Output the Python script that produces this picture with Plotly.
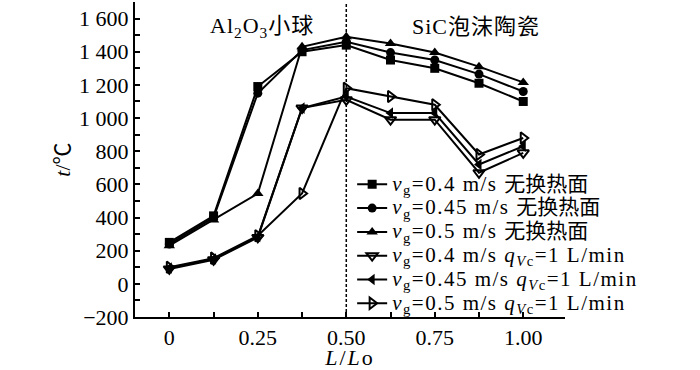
import plotly.graph_objects as go

# ---- data ----
x_pos = [0, 0.125, 0.25, 0.375, 0.5, 0.625, 0.75, 0.875, 1.0]
t_04_none = [250, 410, 1190, 1400, 1440, 1350, 1300, 1210, 1100]
t_045_none = [240, 400, 1150, 1410, 1460, 1395, 1350, 1265, 1160]
t_05_none = [230, 385, 545, 1430, 1490, 1450, 1395, 1310, 1215]
t_04_q = [90, 145, 280, 1060, 1110, 990, 990, 670, 790]
t_045_q = [95, 150, 285, 1060, 1130, 1030, 1030, 720, 830]
t_05_q = [100, 155, 290, 545, 1180, 1130, 1080, 780, 880]

series_latin = [
    "<i>v</i><sub>g</sub>=0.4 m/s ",
    "<i>v</i><sub>g</sub>=0.45 m/s ",
    "<i>v</i><sub>g</sub>=0.5 m/s ",
    "<i>v</i><sub>g</sub>=0.4 m/s <i>q</i><sub><i>V</i>c</sub>=1 L/min",
    "<i>v</i><sub>g</sub>=0.45 m/s <i>q</i><sub><i>V</i>c</sub>=1 L/min",
    "<i>v</i><sub>g</sub>=0.5 m/s <i>q</i><sub><i>V</i>c</sub>=1 L/min",
]
series_cjk = ["无换热面", "无换热面", "无换热面", "", "", ""]
series_values = [t_04_none, t_045_none, t_05_none, t_04_q, t_045_q, t_05_q]
series_symbols = ["square", "circle", "triangle-up",
                  "triangle-down-open", "triangle-left", "triangle-right-open"]

y_tick_vals = [-200, 0, 200, 400, 600, 800, 1000, 1200, 1400, 1600]
y_tick_text = ["−200", "0", "200", "400", "600", "800",
               "1 000", "1 200", "1 400", "1 600"]
x_tick_vals = [0, 0.25, 0.5, 0.75, 1.0]
x_tick_text = ["0", "0.25", "0.50", "0.75", "1.00"]
divider_x = 0.5
region_labels = ["Al<sub>2</sub>O<sub>3</sub>小球", "SiC泡沫陶瓷"]

FONT = "Liberation Serif, Times New Roman, Noto Sans CJK SC, serif"

fig = go.Figure()
for latin, cjk, vals, sym in zip(series_latin, series_cjk, series_values, series_symbols):
    label = '<span style="font-size:21px;letter-spacing:1.5px">' + latin + "</span>"
    if cjk:
        label += '<span style="font-size:21px">' + cjk + "</span>"
    fig.add_trace(go.Scatter(
        x=x_pos, y=vals, mode="lines+markers",
        name=label,
        line=dict(color="black", width=2),
        marker=dict(symbol=sym, size=10 if "triangle" in sym else 9,
                    color="black",
                    line=dict(color="black", width=2 if "open" in sym else 0)),
    ))

fig.add_shape(type="line", x0=divider_x, x1=divider_x, y0=0, y1=1,
              xref="x", yref="paper",
              line=dict(color="black", width=1.5, dash="3px,2px"))

fig.add_annotation(x=0.2965, y=0.922, xref="paper", yref="paper",
                   xanchor="center", yanchor="middle",
                   text='<span style="letter-spacing:1px">' + region_labels[0] + "</span>",
                   showarrow=False,
                   font=dict(size=22, family=FONT, color="black"))
fig.add_annotation(x=0.793, y=0.922, xref="paper", yref="paper",
                   xanchor="center", yanchor="middle",
                   text='<span style="letter-spacing:1px">' + region_labels[1] + "</span>",
                   showarrow=False,
                   font=dict(size=22, family=FONT, color="black"))

fig.update_layout(
    width=700, height=370,
    margin=dict(l=135, r=135, t=2, b=48),
    paper_bgcolor="white", plot_bgcolor="white",
    font=dict(family=FONT, size=22, color="black"),
    showlegend=True,
    legend=dict(x=0.505, y=0.475, xanchor="left", yanchor="top",
                bgcolor="rgba(0,0,0,0)", borderwidth=0,
                font=dict(size=16, family=FONT, color="black"),
                tracegroupgap=0, itemwidth=30),
    xaxis=dict(range=[-0.097, 1.118], showgrid=False, zeroline=False,
               showline=True, linecolor="black", linewidth=2,
               ticks="inside", ticklen=5, tickwidth=1.5, tickcolor="black",
               tickvals=x_tick_vals, ticktext=x_tick_text,
               minor=dict(dtick=0.125, tick0=0, ticks="inside", ticklen=5,
                          tickwidth=1.5, tickcolor="black"),
               title=dict(text='<span style="letter-spacing:2px"><i>L</i>/<i>L</i>o</span>',
                          standoff=2, font=dict(size=22, family=FONT))),
    yaxis=dict(range=[-200, 1700], showgrid=False, zeroline=False,
               showline=True, linecolor="black", linewidth=2,
               ticks="inside", ticklen=5, tickwidth=1.5, tickcolor="black",
               tickvals=y_tick_vals, ticktext=y_tick_text,
               minor=dict(dtick=100, tick0=0, ticks="inside", ticklen=5,
                          tickwidth=1.5, tickcolor="black"),
               title=dict(text="<i>t</i>/℃", standoff=2,
                          font=dict(size=22, family=FONT))),
)

fig.write_html("out.html",
               config={"displayModeBar": False},
               post_script="document.body.style.margin='0px';document.body.style.overflow='hidden';")
